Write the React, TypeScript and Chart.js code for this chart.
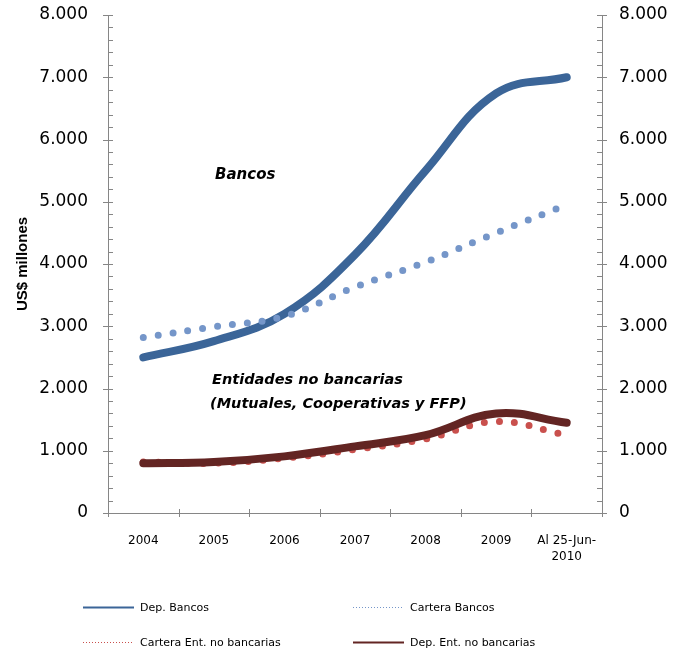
import React, { useEffect, useRef } from "react";
import { Chart, registerables } from "chart.js";

Chart.register(...registerables);

const categories: (string | string[])[] = ["2004", "2005", "2006", "2007", "2008", "2009", ["Al 25-Jun-", "2010"]];
const depBancos = [2500, 2760, 3200, 4150, 5500, 6740, 7000];
const carteraBancos = [2820, 2990, 3160, 3630, 4030, 4500, 4950];
const carteraEntNoBancarias = [820, 800, 880, 1020, 1190, 1470, 1250];
const depEntNoBancarias = [800, 820, 910, 1070, 1250, 1600, 1450];
const yTicks = [0, 1000, 2000, 3000, 4000, 5000, 6000, 7000, 8000];

const FONT = "'DejaVu Sans', sans-serif";

const fmt = (v: number) => (v === 0 ? "0" : (v / 1000).toFixed(3));

const decorPlugin = {
  id: "decor",
  afterDraw(chart: any) {
    const { ctx, chartArea } = chart;
    const { left, right, top, bottom } = chartArea;
    const ys = chart.scales.y;
    ctx.save();
    ctx.strokeStyle = "#868686";
    ctx.lineWidth = 1;
    // y ticks
    for (let v = 0; v <= 8000; v += 200) {
      const py = Math.round(ys.getPixelForValue(v)) + 0.5;
      const major = v % 1000 === 0;
      ctx.beginPath();
      if (major) {
        ctx.moveTo(left - 5, py);
        ctx.lineTo(left + 5, py);
        ctx.moveTo(right - 5, py);
        ctx.lineTo(right + 5, py);
      } else {
        ctx.moveTo(left, py);
        ctx.lineTo(left + 5, py);
        ctx.moveTo(right - 5, py);
        ctx.lineTo(right, py);
      }
      ctx.stroke();
    }
    // x ticks
    const n = categories.length;
    for (let i = 0; i <= n; i++) {
      const px = Math.round(left + ((right - left) * i) / n) + 0.5;
      ctx.beginPath();
      ctx.moveTo(px, bottom - 4);
      ctx.lineTo(px, bottom + 4);
      ctx.stroke();
    }
    // axis title
    ctx.fillStyle = "#000";
    ctx.font = "bold 15px 'Liberation Sans', sans-serif";
    ctx.textAlign = "center";
    ctx.textBaseline = "middle";
    ctx.save();
    ctx.translate(23, (top + bottom) / 2);
    ctx.rotate(-Math.PI / 2);
    ctx.fillText("US$ millones", 0, 0);
    ctx.restore();
    // annotations
    ctx.textAlign = "left";
    ctx.font = "italic bold 15px " + FONT;
    ctx.fillText("Bancos", 215, 175);
    ctx.font = "italic bold 14.5px " + FONT;
    ctx.fillText("Entidades no bancarias", 212, 380);
    ctx.fillText("(Mutuales, Cooperativas y FFP)", 210, 404);
    // legend
    const items = [
      { ds: 0, x: 83, y: 607 },
      { ds: 1, x: 353, y: 607 },
      { ds: 2, x: 83, y: 642 },
      { ds: 3, x: 353, y: 642 },
    ];
    ctx.font = "11px " + FONT;
    items.forEach((it) => {
      const d = chart.data.datasets[it.ds];
      ctx.beginPath();
      ctx.strokeStyle = d.borderColor;
      if (d.legendDotted) {
        ctx.lineWidth = 1;
        ctx.setLineDash([1, 2]);
      } else {
        ctx.lineWidth = 2;
        ctx.setLineDash([]);
      }
      ctx.moveTo(it.x, it.y + 0.5);
      ctx.lineTo(it.x + 51, it.y + 0.5);
      ctx.stroke();
      ctx.setLineDash([]);
      ctx.fillStyle = "#000";
      ctx.fillText(d.label, it.x + 57, it.y + 1);
    });
    ctx.restore();
  },
};

const fitY = (w: number) => (s: any) => {
  s.width = w;
  s.paddingTop = 0;
  s.paddingBottom = 0;
};

export default function App() {
  const ref = useRef<HTMLCanvasElement>(null);
  useEffect(() => {
    if (!ref.current) return;
    const chart = new Chart(ref.current, {
      type: "line",
      data: {
        labels: categories as any,
        datasets: [
          {
            label: "Dep. Bancos",
            data: depBancos,
            borderColor: "#3B6598",
            borderWidth: 8,
            borderCapStyle: "round",
            tension: 0.4,
            pointRadius: 0,
            order: 1,
          } as any,
          {
            label: "Cartera Bancos",
            data: carteraBancos,
            borderColor: "#7596C9",
            borderWidth: 7,
            borderCapStyle: "round",
            borderDash: [0, 15],
            tension: 0.4,
            pointRadius: 0,
            order: 0,
            legendDotted: true,
          },
          {
            label: "Cartera Ent. no bancarias",
            data: carteraEntNoBancarias,
            borderColor: "#C9504D",
            borderWidth: 7,
            borderCapStyle: "round",
            borderDash: [0, 15],
            tension: 0.4,
            pointRadius: 0,
            order: 3,
            legendDotted: true,
          },
          {
            label: "Dep. Ent. no bancarias",
            data: depEntNoBancarias,
            borderColor: "#632523",
            borderWidth: 8,
            borderCapStyle: "round",
            tension: 0.4,
            pointRadius: 0,
            order: 2,
          },
        ],
      },
      options: {
        responsive: false,
        animation: false,
        layout: { padding: { top: 15, left: 0, right: 0, bottom: 0 } },
        plugins: { legend: { display: false }, tooltip: { enabled: false } },
        scales: {
          x: {
            offset: true,
            grid: { display: false, drawTicks: false, offset: true },
            border: { display: true, color: "#868686", width: 1 },
            ticks: { color: "#000", font: { family: FONT, size: 12, lineHeight: 1.35 }, padding: 20, maxRotation: 0, autoSkip: false },
            afterFit: (s: any) => { s.height = 138; s.paddingLeft = 0; s.paddingRight = 0; },
          },
          y: {
            position: "left",
            min: 0,
            max: 8000,
            afterBuildTicks: (s: any) => { s.ticks = yTicks.map((v) => ({ value: v })); },
            grid: { display: false, drawTicks: false },
            border: { display: true, color: "#868686", width: 1 },
            ticks: { color: "#000", font: { family: FONT, size: 17 }, padding: 20, callback: (v: any) => fmt(Number(v)) },
            afterFit: fitY(108),
          },
          y2: {
            position: "right",
            min: 0,
            max: 8000,
            afterBuildTicks: (s: any) => { s.ticks = yTicks.map((v) => ({ value: v })); },
            grid: { display: false, drawTicks: false },
            border: { display: true, color: "#868686", width: 1 },
            ticks: { color: "#000", font: { family: FONT, size: 17 }, padding: 17, callback: (v: any) => fmt(Number(v)) },
            afterFit: fitY(81),
          },
        },
      },
      plugins: [decorPlugin],
    });
    return () => chart.destroy();
  }, []);
  return (
    <div style={{ position: "fixed", left: 0, top: 0, width: 683, height: 651, background: "#fff" }}>
      <canvas ref={ref} width={683} height={651} style={{ display: "block", width: 683, height: 651 }} />
    </div>
  );
}
